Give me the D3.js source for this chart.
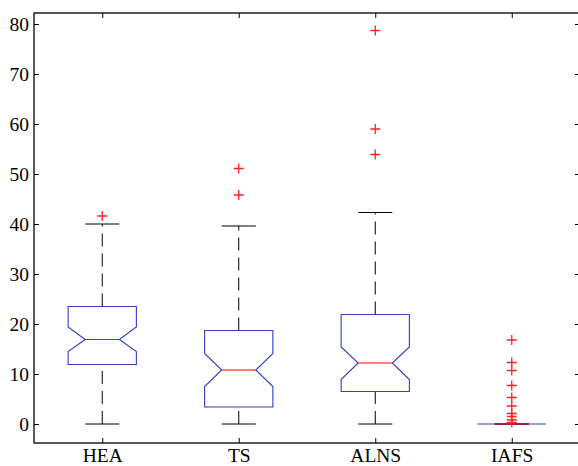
<!DOCTYPE html>
<html>
<head>
<meta charset="utf-8">
<script src="https://cdn.jsdelivr.net/npm/d3@7"></script>
<style>
  body { margin: 0; background: #fff; }
</style>
</head>
<body>
<svg width="578" height="466"></svg>
<script>
const methods = ['HEA', 'TS', 'ALNS', 'IAFS'];
const q1 = [11.9, 3.4, 6.5, 0];
const medians = [16.9, 10.8, 12.2, 0];
const q3 = [23.5, 18.7, 21.9, 0];
const whiskerLo = [0, 0, 0, 0];
const whiskerHi = [40, 39.6, 42.3, 0];
const notchLo = [14.5, 7.5, 8.9, 0];
const notchHi = [19.4, 14.1, 15.4, 0];
const outliers = [
    [41.6],
    [45.8, 51.1],
    [53.9, 59.0, 78.7],
    [16.8, 12.3, 10.7, 7.7, 5.3, 3.6, 2.1, 1.5, 0.8, 0.3]
];
const yTicks = [0, 10, 20, 30, 40, 50, 60, 70, 80];

const svg = d3.select('svg');
const fontFamily = '"Liberation Serif", "Times New Roman", Times, serif';

const margin = { top: 13, right: -2, bottom: 23, left: 34 };
const width = +svg.attr('width');
const height = +svg.attr('height');
const innerWidth = width - margin.left - margin.right;
const innerHeight = height - margin.top - margin.bottom;

const xScale = d3.scaleLinear()
    .domain([0.5, methods.length + 0.5])
    .range([0, innerWidth]);

const yScale = d3.scaleLinear()
    .domain([-3.8, 82.2])
    .range([innerHeight, 0]);

const g = svg.append('g')
    .attr('transform', `translate(${margin.left}, ${margin.top})`);

const data = methods.map((m, i) => ({
    name: m, pos: i + 1,
    q1: q1[i], med: medians[i], q3: q3[i],
    lo: whiskerLo[i], hi: whiskerHi[i],
    nLo: notchLo[i], nHi: notchHi[i],
    out: outliers[i]
}));

// axes (ticks point inward, matlab style)
const yAxis = d3.axisLeft(yScale).tickValues(yTicks)
    .tickSizeInner(-5).tickSizeOuter(0).tickPadding(5);
const yAxisG = g.append('g').call(yAxis)
    .attr('font-family', fontFamily).attr('font-size', 19.5);
yAxisG.select('.domain').remove();
yAxisG.selectAll('.tick text').attr('dy', '0.32em').attr('fill', '#000');

const yAxisR = d3.axisRight(yScale).tickValues(yTicks)
    .tickSizeInner(-5).tickSizeOuter(0).tickFormat('');
g.append('g').attr('transform', `translate(${innerWidth}, 0)`)
    .call(yAxisR).select('.domain').remove();

const xAxis = d3.axisBottom(xScale).tickValues(data.map(d => d.pos))
    .tickFormat((d, i) => methods[i])
    .tickSizeInner(-5).tickSizeOuter(0);
const xAxisG = g.append('g').attr('transform', `translate(0, ${innerHeight})`).call(xAxis)
    .attr('font-family', fontFamily).attr('font-size', 19.5);
xAxisG.select('.domain').remove();
xAxisG.selectAll('.tick text').attr('y', 18.5).attr('dy', 0).attr('fill', '#000');

const xAxisT = d3.axisTop(xScale).tickValues(data.map(d => d.pos))
    .tickSizeInner(-5).tickSizeOuter(0).tickFormat('');
g.append('g').call(xAxisT).select('.domain').remove();

g.selectAll('.tick line').attr('stroke', '#000').attr('stroke-width', 1);

const halfBox = 0.25;
const halfNotch = 0.125;

const boxes = g.selectAll('.box').data(data).enter().append('g').attr('class', 'box');

// whiskers
boxes.append('line')
    .attr('x1', d => xScale(d.pos)).attr('x2', d => xScale(d.pos))
    .attr('y1', d => yScale(d.q3)).attr('y2', d => yScale(d.hi))
    .attr('stroke', '#000').attr('stroke-dasharray', '13,7');
boxes.append('line')
    .attr('x1', d => xScale(d.pos)).attr('x2', d => xScale(d.pos))
    .attr('y1', d => yScale(d.lo)).attr('y2', d => yScale(d.q1))
    .attr('stroke', '#000').attr('stroke-dasharray', '13,7');

// whisker caps
[d => d.hi, d => d.lo].forEach(v => {
    boxes.append('line')
        .attr('x1', d => xScale(d.pos - halfNotch)).attr('x2', d => xScale(d.pos + halfNotch))
        .attr('y1', d => yScale(v(d))).attr('y2', d => yScale(v(d)))
        .attr('stroke', '#000').attr('stroke-width', 1);
});

// notched box
boxes.append('path')
    .attr('d', d => {
        const l = xScale(d.pos - halfBox), r = xScale(d.pos + halfBox);
        const nl = xScale(d.pos - halfNotch), nr = xScale(d.pos + halfNotch);
        const pts = [
            [l, yScale(d.q1)], [l, yScale(d.nLo)], [nl, yScale(d.med)], [l, yScale(d.nHi)],
            [l, yScale(d.q3)], [r, yScale(d.q3)], [r, yScale(d.nHi)], [nr, yScale(d.med)],
            [r, yScale(d.nLo)], [r, yScale(d.q1)]
        ];
        return d3.line()(pts) + 'Z';
    })
    .attr('fill', 'none').attr('stroke', '#2e3fb8').attr('stroke-width', 1.1);

// median
boxes.append('line')
    .attr('x1', d => xScale(d.pos - halfNotch)).attr('x2', d => xScale(d.pos + halfNotch))
    .attr('y1', d => yScale(d.med)).attr('y2', d => yScale(d.med))
    .attr('stroke', '#f00').attr('stroke-width', 1.1);

// outliers
const mk = 5;
boxes.each(function (d) {
    d3.select(this).selectAll('.out').data(d.out).enter().append('path')
        .attr('class', 'out')
        .attr('d', v => {
            const cx = xScale(d.pos), cy = yScale(v);
            return `M${cx - mk},${cy}H${cx + mk}M${cx},${cy - mk}V${cy + mk}`;
        })
        .attr('stroke', '#f22').attr('stroke-width', 1.3).attr('fill', 'none');
});

// frame
g.append('rect')
    .attr('width', innerWidth).attr('height', innerHeight)
    .attr('fill', 'none').attr('stroke', '#000').attr('stroke-width', 1.3);
</script>
</body>
</html>
